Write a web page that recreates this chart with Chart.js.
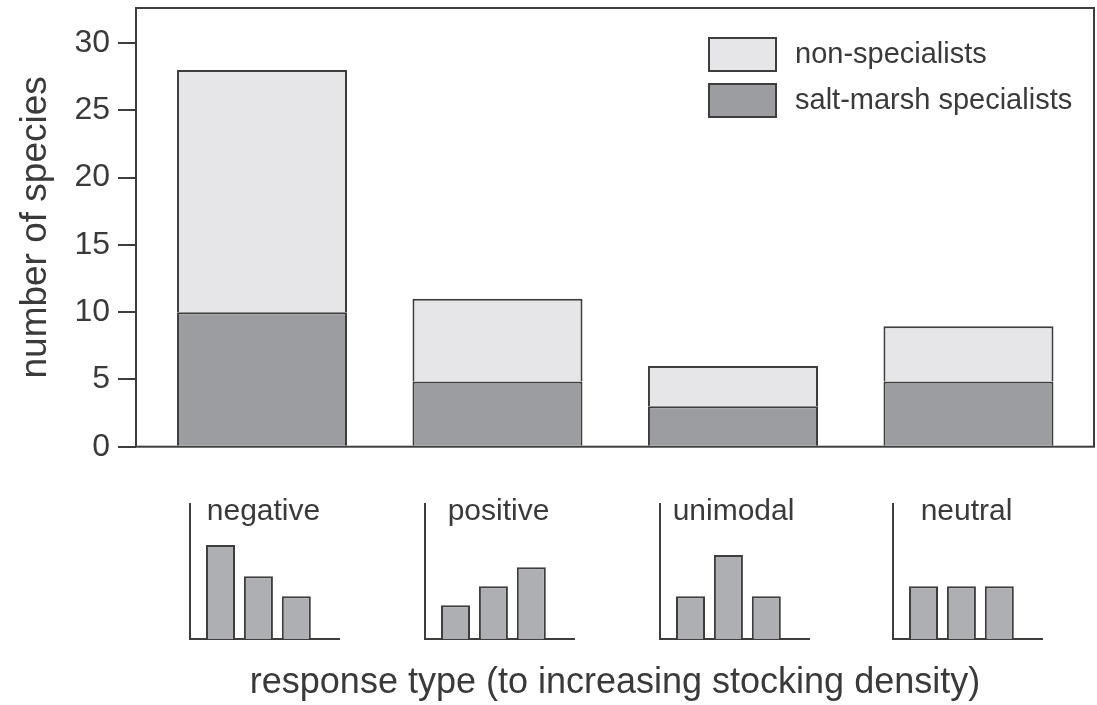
<!DOCTYPE html>
<html>
<head>
<meta charset="utf-8">
<script src="https://cdn.jsdelivr.net/npm/chart.js@4/dist/chart.umd.min.js"></script>
<style>
  html, body { margin: 0; padding: 0; background: #ffffff; }
  #wrap { position: relative; width: 1097px; height: 705px; overflow: hidden; background: #ffffff; }
  canvas { position: absolute; }
</style>
</head>
<body>
<div id="wrap">
  <canvas id="main" width="1097" height="705" style="left:0px;top:0px;"></canvas>
  <canvas id="inset0" width="190" height="175" style="left:170px;top:480px;"></canvas>
  <canvas id="inset1" width="190" height="175" style="left:405px;top:480px;"></canvas>
  <canvas id="inset2" width="190" height="175" style="left:640px;top:480px;"></canvas>
  <canvas id="inset3" width="190" height="175" style="left:873px;top:480px;"></canvas>
</div>
<script>
// ---- data ----
const categories = ['negative', 'positive', 'unimodal', 'neutral'];
const seriesNames = ['salt-marsh specialists', 'non-specialists'];
const saltMarshSpecialists = [10, 4.85, 3, 4.85];
const nonSpecialists = [18, 6.15, 3, 4.1];
const yAxisTitle = 'number of species';
const xAxisTitle = 'response type (to increasing stocking density)';
const yTickStep = 5;
// schematic response shapes (low -> high stocking density)
const densityLevels = ['low', 'medium', 'high'];
const negativeShape = [9.4, 6.3, 4.3];
const positiveShape = [3.4, 5.3, 7.2];
const unimodalShape = [4.3, 8.4, 4.3];
const neutralShape = [5.3, 5.3, 5.3];

// ---- styles ----
const FONT = "'Liberation Sans', Arial, Helvetica, sans-serif";
const TEXT = '#3a3a3a';
const LINE = '#3d3d3d';
const LIGHT = '#e6e6e8';
const DARK = '#9c9da1';
const INSET_FILL = '#aeafb3';
Chart.defaults.font.family = FONT;
Chart.defaults.color = TEXT;

const framePlugin = {
  id: 'frame',
  beforeDatasetsDraw(chart, args, opts) {
    const { ctx, chartArea: a } = chart;
    ctx.save();
    ctx.strokeStyle = opts.color;
    ctx.lineWidth = opts.width;
    ctx.strokeRect(a.left, a.top, a.right - a.left, a.bottom - a.top);
    ctx.restore();
  }
};

const boxLegendPlugin = {
  id: 'boxLegend',
  afterDatasetsDraw(chart, args, o) {
    const { ctx, chartArea: a } = chart;
    const items = chart.data.datasets.map(d => ({ text: d.label, fill: d.backgroundColor, stroke: d.borderColor })).reverse();
    const x = a.right - o.offsetRight;
    ctx.save();
    items.forEach((it, i) => {
      const y = a.top + o.offsetTop + i * o.rowGap;
      ctx.fillStyle = it.fill;
      ctx.fillRect(x, y, o.boxWidth, o.boxHeight);
      ctx.strokeStyle = it.stroke;
      ctx.lineWidth = 2;
      ctx.strokeRect(x + 1, y + 1, o.boxWidth - 2, o.boxHeight - 2);
      ctx.fillStyle = TEXT;
      ctx.font = o.fontSize + 'px ' + FONT;
      ctx.textAlign = 'left';
      ctx.textBaseline = 'middle';
      ctx.fillText(it.text, x + o.boxWidth + o.textGap, y + o.boxHeight / 2);
    });
    ctx.restore();
  }
};

const insetLabelPlugin = {
  id: 'insetLabel',
  afterDraw(chart, args, o) {
    const { ctx, chartArea: a } = chart;
    ctx.save();
    ctx.fillStyle = TEXT;
    ctx.font = o.fontSize + 'px ' + FONT;
    ctx.textAlign = 'center';
    ctx.textBaseline = 'middle';
    ctx.fillText(o.text, (a.left + a.right) / 2 + o.dx, a.top + o.dy);
    ctx.restore();
  }
};

// ---- main chart ----
new Chart(document.getElementById('main'), {
  type: 'bar',
  data: {
    datasets: [
      {
        label: seriesNames[0],
        data: categories.map((c, i) => ({ x: i, y: saltMarshSpecialists[i] })),
        backgroundColor: DARK, borderColor: LINE, borderWidth: 2
      },
      {
        label: seriesNames[1],
        data: categories.map((c, i) => ({ x: i, y: nonSpecialists[i] })),
        backgroundColor: LIGHT, borderColor: LINE, borderWidth: 2
      }
    ]
  },
  options: {
    responsive: false,
    animation: false,
    categoryPercentage: 1,
    barPercentage: 0.722,
    layout: { padding: { left: 0, right: 3, top: 8, bottom: 0 } },
    plugins: {
      legend: { display: false },
      tooltip: { enabled: false },
      frame: { color: LINE, width: 2 },
      boxLegend: { offsetRight: 386, offsetTop: 29, boxWidth: 69, boxHeight: 35, rowGap: 46, textGap: 18, fontSize: 29 }
    },
    scales: {
      x: {
        type: 'linear', stacked: true, min: -0.535, max: 3.533, offset: false,
        grid: { display: false, drawTicks: false, offset: false },
        border: { display: false },
        ticks: { display: false, stepSize: 1, includeBounds: false },
        title: {
          display: true, text: xAxisTitle, color: TEXT,
          font: { size: 36, lineHeight: 1 },
          padding: { top: 218.3, bottom: 4 }
        }
      },
      y: {
        stacked: true, min: 0, max: 32.6,
        grid: { display: true, drawOnChartArea: false, drawTicks: true, tickLength: 18, color: LINE, lineWidth: 2 },
        border: { display: false },
        ticks: { stepSize: yTickStep, includeBounds: false, padding: 8, color: TEXT, font: { size: 32 } },
        title: {
          display: true, text: yAxisTitle, color: TEXT,
          font: { size: 37, lineHeight: 1 },
          padding: { top: 17.5, bottom: 0 }
        },
        afterFit(scale) { scale.width = 136; scale.paddingTop = 0; scale.paddingBottom = 0; }
      }
    }
  },
  plugins: [framePlugin, boxLegendPlugin]
});

// ---- inset schematic charts ----
const insetShapes = [negativeShape, positiveShape, unimodalShape, neutralShape];
categories.forEach((name, k) => {
  new Chart(document.getElementById('inset' + k), {
    type: 'bar',
    data: {
      datasets: [{
        label: name,
        data: densityLevels.map((lvl, i) => ({ x: i, y: insetShapes[k][i] })),
        backgroundColor: INSET_FILL, borderColor: LINE, borderWidth: 2
      }]
    },
    options: {
      responsive: false,
      animation: false,
      categoryPercentage: 1,
      barPercentage: 0.765,
      layout: { padding: { left: 20, right: 21, top: 24, bottom: 15.7 } },
      plugins: {
        legend: { display: false },
        tooltip: { enabled: false },
        insetLabel: { text: name, fontSize: 30, dx: -1, dy: 8 }
      },
      scales: {
        x: {
          type: 'linear', min: -0.805, max: 3.126, offset: false,
          grid: { display: false, drawTicks: false, offset: false },
          border: { display: true, color: LINE, width: 2 },
          ticks: { display: false, stepSize: 1, includeBounds: false }
        },
        y: {
          min: 0, max: 13.5,
          grid: { display: false, drawTicks: false },
          border: { display: true, color: LINE, width: 2 },
          ticks: { display: false }
        }
      }
    },
    plugins: [insetLabelPlugin]
  });
});
</script>
</body>
</html>
